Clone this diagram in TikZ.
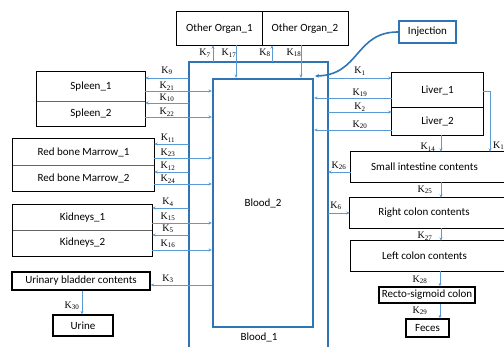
\documentclass[tikz,border=0pt]{standalone}
\usepackage{fontspec}
\setmainfont{Carlito}
\newfontfamily\kfont{Liberation Serif}
\usetikzlibrary{arrows.meta}
\definecolor{bloodblue}{HTML}{2E75B6}
\definecolor{arrblue}{HTML}{5B9BD5}
\tikzset{
  cell/.style={inner sep=0pt, font=\fontsize{11}{13}\selectfont, text=black},
  boxline/.style={draw=black, line width=1.3pt},
  divline/.style={draw=black!60, line width=0.8pt},
  bluebox/.style={draw=bloodblue, line width=2.2pt},
  arr/.style={draw=arrblue, line width=0.6pt, -{Stealth[length=3.5pt,width=3pt]}},
  plain/.style={draw=arrblue, line width=0.6pt},
  klab/.style={inner sep=0pt, font=\kfont\fontsize{10}{10}\selectfont},
}
\newcommand{\KK}[1]{K\textsubscript{#1}}
\begin{document}
\begin{tikzpicture}[x=1pt,y=-1pt]
\useasboundingbox (0,0) rectangle (504,347);

% Blood compartments
\node[cell, minimum width=139pt, minimum height=285pt] (b1) at (258.5,204.5) {};
\draw[bluebox] (b1.south west) -- (b1.north west) -- (b1.north east) -- (b1.south east);
\node[cell, anchor=center] (b1lab) at (259,337) {Blood\_1};
\node[cell, bluebox, minimum width=100pt, minimum height=248pt] (b2) at (263,203) {Blood\_2};

% Other organs
\node[cell, minimum width=85pt, minimum height=33pt] (oo1) at (219.5,28.5) {Other Organ\_1};
\node[cell, minimum width=86pt, minimum height=33pt] (oo2) at (305,28.5) {Other Organ\_2};
\draw[boxline] (oo1.north west) rectangle (oo2.south east);
\draw[divline, draw=black] (oo1.north east) -- (oo1.south east);

% Injection
\node[cell, bluebox, minimum width=57pt, minimum height=22pt] (inj) at (427.5,32) {Injection};
\coordinate (injend) at (315,76);
\draw[draw=bloodblue, line width=1.6pt, -{Stealth[length=4pt,width=3.5pt]}] (inj.west) .. controls (355,32) and (360,75) .. (injend);

% Spleen
\node[cell, minimum width=108pt, minimum height=29pt] (sp1) at (91,86.5) {Spleen\_1};
\node[cell, minimum width=108pt, minimum height=25pt] (sp2) at (91,113.5) {Spleen\_2};
\draw[boxline] (sp1.north west) rectangle (sp2.south east);
\draw[divline] (sp1.south west) -- (sp1.south east);

% Red bone marrow
\node[cell, minimum width=141pt, minimum height=26pt] (rb1) at (83.5,152) {Red bone Marrow\_1};
\node[cell, minimum width=141pt, minimum height=26pt] (rb2) at (83.5,178) {Red bone Marrow\_2};
\draw[boxline] (rb1.north west) rectangle (rb2.south east);
\draw[divline] (rb1.south west) -- (rb1.south east);

% Kidneys
\node[cell, minimum width=139pt, minimum height=25pt] (kd1) at (82.5,217.5) {Kidneys\_1};
\node[cell, minimum width=139pt, minimum height=26pt] (kd2) at (82.5,243) {Kidneys\_2};
\draw[boxline] (kd1.north west) rectangle (kd2.south east);
\draw[divline] (kd1.south west) -- (kd1.south east);

% Urinary bladder, urine
\node[cell, boxline, minimum width=138pt, minimum height=18pt] (ub) at (81,281) {Urinary bladder contents};
\node[cell, boxline, minimum width=60pt, minimum height=21pt] (ur) at (83,325.5) {Urine};

% Liver
\node[cell, minimum width=91pt, minimum height=34pt] (lv1) at (437.5,90) {Liver\_1};
\node[cell, minimum width=91pt, minimum height=28pt] (lv2) at (437.5,121) {Liver\_2};
\draw[boxline] (lv1.north west) rectangle (lv2.south east);
\draw[divline, draw=black] (lv1.south west) -- (lv1.south east);

% GI tract (open on the right)
\node[cell, minimum width=147pt, minimum height=30pt] (si) at (424.5,167) {Small intestine contents};
\draw[boxline] ([xshift=12pt]si.north east) -- (si.north west) -- (si.south west) -- ([xshift=12pt]si.south east);
\node[cell, minimum width=148pt, minimum height=30pt] (rc) at (424,213) {Right colon contents};
\draw[boxline] ([xshift=12pt]rc.north east) -- (rc.north west) -- (rc.south west) -- ([xshift=12pt]rc.south east);
\node[cell, minimum width=147pt, minimum height=30pt] (lc) at (424.5,256) {Left colon contents};
\draw[boxline] ([xshift=12pt]lc.north east) -- (lc.north west) -- (lc.south west) -- ([xshift=12pt]lc.south east);
\node[cell, boxline, minimum width=96pt, minimum height=16pt] (rs) at (427,295) {Recto-sigmoid colon};
\node[cell, boxline, minimum width=43pt, minimum height=18pt] (fe) at (427.5,328) {Feces};

% Top arrows
\draw[arr] (b1.north -| 213,0) -- (oo1.south -| 213,0);
\draw[arr] (oo1.south -| 236,0) -- (b2.north -| 236,0);
\draw[arr] (b1.north -| 272,0) -- (oo2.south -| 272,0);
\draw[arr] (oo2.south -| 301,0) -- (b2.north -| 301,0);
\node[klab] (k7) at (205,53) {\KK{7}};
\node[klab] (k17) at (229,53) {\KK{17}};
\node[klab] (k8) at (265,53) {\KK{8}};
\node[klab] (k18) at (294,53) {\KK{18}};

% Left arrows
\draw[arr] (b1.west |- 0,78) -- (sp1.east |- 0,78);
\draw[arr] (sp1.east |- 0,91) -- (b2.west |- 0,91);
\draw[arr] (b1.west |- 0,103) -- (sp2.east |- 0,103);
\draw[arr] (sp2.east |- 0,117) -- (b2.west |- 0,117);
\draw[arr] (b1.west |- 0,144) -- (rb1.east |- 0,144);
\draw[arr] (rb1.east |- 0,158) -- (b2.west |- 0,158);
\draw[arr] (b1.west |- 0,172) -- (rb2.east |- 0,172);
\draw[arr] (rb2.east |- 0,184) -- (b2.west |- 0,184);
\draw[arr] (b1.west |- 0,208) -- (kd1.east |- 0,208);
\draw[arr] (kd1.east |- 0,223) -- (b2.west |- 0,223);
\draw[arr] (b1.west |- 0,235) -- (kd2.east |- 0,235);
\draw[arr] (kd2.east |- 0,250) -- (b2.west |- 0,250);
\draw[arr] (b2.west |- 0,285) -- (ub.east |- 0,285);
\draw[arr] (ub.south -| 82,0) -- (ur.north -| 82,0);
\node[klab] (k9) at (167,71) {\KK{9}};
\node[klab] (k21) at (167,86) {\KK{21}};
\node[klab] (k10) at (167,98) {\KK{10}};
\node[klab] (k22) at (167,112) {\KK{22}};
\node[klab] (k11) at (168,138) {\KK{11}};
\node[klab] (k23) at (168,153) {\KK{23}};
\node[klab] (k12) at (168,166) {\KK{12}};
\node[klab] (k24) at (168,179) {\KK{24}};
\node[klab] (k4) at (168,202) {\KK{4}};
\node[klab] (k15) at (168,217) {\KK{15}};
\node[klab] (k5) at (168,229) {\KK{5}};
\node[klab] (k16) at (168,244) {\KK{16}};
\node[klab] (k3) at (168,279) {\KK{3}};
\node[klab] (k30) at (72,306) {\KK{30}};

% Right arrows
\draw[arr] (b1.east |- 0,78) -- (lv1.west |- 0,78);
\draw[arr] (lv1.west |- 0,98) -- (b2.east |- 0,98);
\draw[arr] (b1.east |- 0,112) -- (lv2.west |- 0,112);
\draw[arr] (lv2.west |- 0,130) -- (b2.east |- 0,130);
\draw[arr] (lv2.south -| 441,0) -- (si.north -| 441,0);
\coordinate (k13turn) at (490,91);
\draw[arr] (lv1.east |- 0,91) -- (k13turn) -- (si.north -| k13turn);
\draw[arr] (si.west |- 0,172) -- (b1.east |- 0,172);
\draw[arr] (si.south -| 441,0) -- (rc.north -| 441,0);
\draw[arr] (b1.east |- 0,213) -- (rc.west);
\draw[arr] (rc.south -| 441,0) -- (lc.north -| 441,0);
\draw[arr] (lc.south -| 440,0) -- (rs.north -| 440,0);
\draw[arr] (rs.south -| 440,0) -- (fe.north -| 440,0);
\node[klab] (k1) at (360,71) {\KK{1}};
\node[klab] (k19) at (360,93) {\KK{19}};
\node[klab] (k2) at (360,107) {\KK{2}};
\node[klab] (k20) at (360,125) {\KK{20}};
\node[klab] (k14) at (428,147) {\KK{14}};
\node[klab, anchor=west] (k13) at (493,146) {\KK{13}};
\node[klab] (k26) at (339,166) {\KK{26}};
\node[klab] (k25) at (425,190) {\KK{25}};
\node[klab] (k6) at (336,206) {\KK{6}};
\node[klab] (k27) at (425,236) {\KK{27}};
\node[klab] (k28) at (420,280) {\KK{28}};
\node[klab] (k29) at (420,311) {\KK{29}};
\end{tikzpicture}
\end{document}
